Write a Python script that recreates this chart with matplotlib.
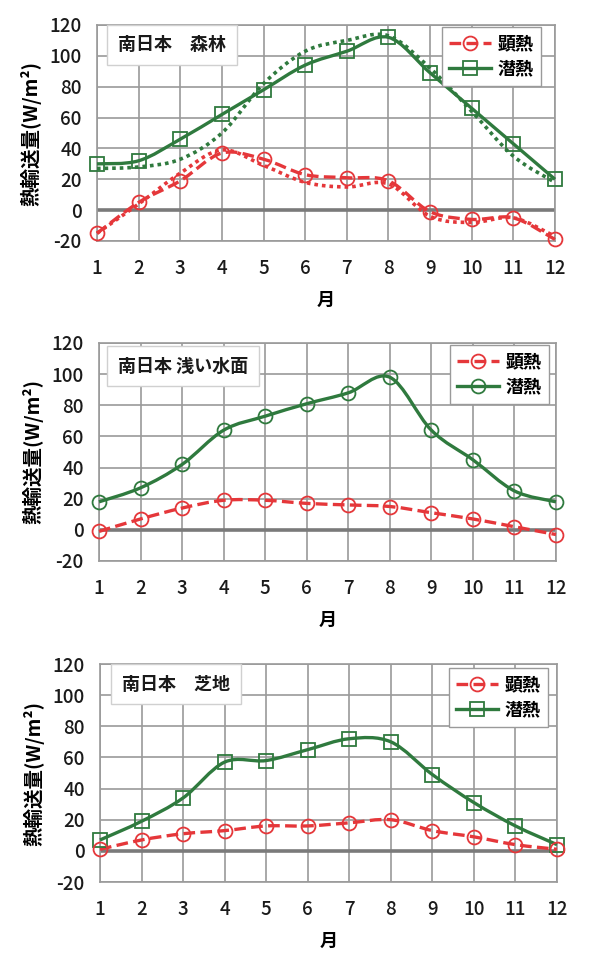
# plot.py
# Monthly heat flux, southern Japan: forest / shallow water / turf

### Imports ###
import matplotlib
matplotlib.use("Agg")
import matplotlib.pyplot as plt
from matplotlib.path import Path
from matplotlib.patches import PathPatch
from matplotlib.lines import Line2D

plt.rcParams['font.family'] = ['Noto Sans CJK JP', 'DejaVu Sans']
plt.rcParams['axes.unicode_minus'] = False

### Data ###
months = [1, 2, 3, 4, 5, 6, 7, 8, 9, 10, 11, 12]

forest_sensible = [-15, 5, 19, 37, 33, 23, 21, 19, -1, -6, -5, -19]
forest_latent = [30, 32, 46, 62, 78, 94, 103, 112, 89, 66, 43, 20]
forest_sensible_dot = [-15, 4, 24, 39, 29, 18, 15, 17, -4, -8, -5, -17]
forest_latent_dot = [27, 28, 33, 50, 82, 103, 110, 113, 92, 64, 35, 18]

water_sensible = [-1, 7, 14, 19, 19, 17, 16, 15, 11, 7, 2, -3]
water_latent = [18, 27, 42, 64, 73, 81, 88, 98, 64, 45, 25, 18]

turf_sensible = [1, 7, 11, 13, 16, 16, 18, 20, 13, 9, 4, 1]
turf_latent = [7, 19, 34, 57, 58, 65, 72, 70, 49, 31, 16, 4]

titles = ['南日本　森林', '南日本 浅い水面', '南日本　芝地']
legend_names = ['顕熱', '潜熱']

RED = '#e5373a'
GREEN = '#2f7a3e'

# axes boxes in pixels: left, top, right, bottom (600x967 canvas)
W, H = 600, 967
boxes = [(97, 25, 555, 241), (99, 343, 556, 561), (100, 664, 557, 882)]
title_pos = [(118, 45), (118, 366), (122, 684)]
legend_pos = [(541, 27), (549, 345), (548, 668)]


def smooth_path(x, y):
    # Excel style smoothed line -> cubic bezier segments
    n = len(x)
    verts = [(x[0], y[0])]
    codes = [Path.MOVETO]
    for i in range(n - 1):
        i0 = max(i - 1, 0)
        i3 = min(i + 2, n - 1)
        c1 = (x[i] + (x[i + 1] - x[i0]) / 6.0, y[i] + (y[i + 1] - y[i0]) / 6.0)
        c2 = (x[i + 1] - (x[i3] - x[i]) / 6.0, y[i + 1] - (y[i3] - y[i]) / 6.0)
        verts += [c1, c2, (x[i + 1], y[i + 1])]
        codes += [Path.CURVE4] * 3
    return Path(verts, codes)


def draw_series(ax, y, color, ls, marker=None, lw=2.4):
    patch = PathPatch(smooth_path(months, y), fill=False, edgecolor=color,
                      linewidth=lw, linestyle=ls, capstyle='butt', zorder=3)
    patch.set_clip_on(False)
    ax.add_patch(patch)
    if marker is not None:
        ax.plot(months, y, linestyle='none', marker=marker, markersize=10,
                markerfacecolor='none', markeredgecolor=color,
                markeredgewidth=1.3, zorder=4, clip_on=False)


fig = plt.figure(figsize=(6, 9.67), dpi=100)
fig.patch.set_facecolor('white')

panels = [
    (forest_sensible, forest_latent, 's'),
    (water_sensible, water_latent, 'o'),
    (turf_sensible, turf_latent, 's'),
]

dash = (0, (3.5, 1.6))

for k, (sens, lat, lat_marker) in enumerate(panels):
    l, t, r, b = boxes[k]
    ax = fig.add_axes([l / W, 1 - b / H, (r - l) / W, (b - t) / H])
    ax.set_xlim(1, 12)
    ax.set_ylim(-20, 120)
    ax.set_xticks(months)
    ax.set_yticks(range(-20, 121, 20))
    ax.grid(True, color='#9a9a9a', linewidth=1.2, zorder=0)
    ax.set_axisbelow(True)
    for sp in ax.spines.values():
        sp.set_color('#9a9a9a')
        sp.set_linewidth(1.2)
    ax.tick_params(length=0, labelsize=13.5, colors='#1a1a1a')
    ax.tick_params(axis='y', pad=11)
    ax.tick_params(axis='x', pad=13)
    for lab in ax.get_xticklabels() + ax.get_yticklabels():
        lab.set_fontweight('medium')
    ax.axhline(0, color='#7a7a7a', linewidth=2.6, zorder=2)

    if k == 0:
        draw_series(ax, forest_latent_dot, GREEN, (0, (1, 1.1)), lw=2.6)
        draw_series(ax, forest_sensible_dot, RED, (0, (1, 1.1)), lw=2.6)
    draw_series(ax, lat, GREEN, '-', marker=lat_marker)
    draw_series(ax, sens, RED, dash, marker='o')

    ax.set_xlabel('月', fontsize=13, fontweight='bold', labelpad=9)
    ax.set_ylabel('熱輸送量(W/m²)', fontsize=14, fontweight='bold', labelpad=6)

    # title box
    tx, ty = title_pos[k]
    ax.text(tx / W, 1 - ty / H, titles[k], transform=fig.transFigure,
            fontsize=13, fontweight='bold', va='center', ha='left',
            color='#1a1a1a', zorder=6,
            bbox=dict(boxstyle='square,pad=0.6', facecolor='white',
                      edgecolor='#d0d0d0', linewidth=1.0))

    handles = [
        Line2D([], [], color=RED, linestyle=dash, linewidth=2.4, marker='o',
               markersize=10, markerfacecolor='none', markeredgecolor=RED,
               markeredgewidth=1.3),
        Line2D([], [], color=GREEN, linestyle='-', linewidth=2.4, marker=lat_marker,
               markersize=10, markerfacecolor='none', markeredgecolor=GREEN,
               markeredgewidth=1.3),
    ]
    lx, ly = legend_pos[k]
    leg = ax.legend(handles, legend_names, loc='upper right',
                    bbox_to_anchor=(lx / W, 1 - ly / H),
                    bbox_transform=fig.transFigure,
                    prop={'weight': 'bold', 'size': 13},
                    handlelength=2.3, handletextpad=0.4, labelspacing=0.35,
                    borderpad=0.4, borderaxespad=0, fancybox=False,
                    framealpha=1, edgecolor='#9a9a9a')
    leg.get_frame().set_linewidth(1.0)
    leg.set_zorder(6)

fig.savefig('out.png', dpi=100, facecolor='white')
